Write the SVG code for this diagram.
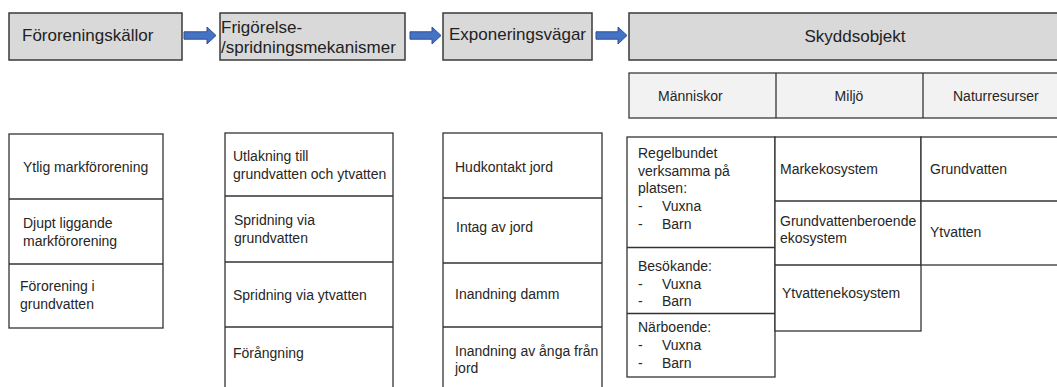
<svg xmlns="http://www.w3.org/2000/svg" width="1057" height="387" viewBox="0 0 1057 387">
<style>
.hdr{fill:#d9d9d9;stroke:#3a3a3a;stroke-width:1.5}
.sub{fill:#f2f2f2;stroke:#3a3a3a;stroke-width:1.3}
.cell{fill:#ffffff;stroke:#333;stroke-width:1.3}
.ln{stroke:#333;stroke-width:1.3;fill:none}
.ht{font-family:"Liberation Sans",Arial,sans-serif;font-size:17px;fill:#222}
.t{font-family:"Liberation Sans",Arial,sans-serif;font-size:14px;fill:#262626}
.arr{fill:#4472c4;stroke:#2f528f;stroke-width:1}
</style>
<rect width="1057" height="387" fill="#ffffff"/>

<g id="connectors">
<path class="arr" d="M184,31.8 H207 V27 L216,35.5 L207,44 V39.2 H184 Z"/>
<path class="arr" d="M410,31.8 H432 V27 L441,35.5 L432,44 V39.2 H410 Z"/>
<path class="arr" d="M596,31.8 H618 V27 L627,35.5 L618,44 V39.2 H596 Z"/>
</g>

<g id="n-fororeningskallor">
<rect class="hdr" x="9" y="13" width="173" height="47"/>
<text class="ht" x="22" y="41">Föroreningskällor</text>
</g>
<g id="n-frigorelse">
<rect class="hdr" x="220" y="13" width="185" height="47"/>
<text class="ht" x="221" y="33">Frigörelse-</text>
<text class="ht" x="221" y="53">/spridningsmekanismer</text>
</g>
<g id="n-exponeringsvagar">
<rect class="hdr" x="443" y="13" width="149" height="47"/>
<text class="ht" x="449" y="40">Exponeringsvägar</text>
</g>
<g id="n-skyddsobjekt">
<rect class="hdr" x="629" y="13" width="430" height="47"/>
<text class="ht" x="855" y="42" text-anchor="middle">Skyddsobjekt</text>
</g>

<g id="n-subheaders">
<rect class="sub" x="629" y="73" width="430" height="45"/>
<line class="ln" x1="776" y1="73" x2="776" y2="118"/>
<line class="ln" x1="923" y1="73" x2="923" y2="118"/>
<text class="t" x="658" y="101">Människor</text>
<text class="t" x="849" y="101" text-anchor="middle">Miljö</text>
<text class="t" x="953" y="101">Naturresurser</text>
</g>

<g id="n-kallor">
<rect class="cell" x="9" y="134" width="154" height="194"/>
<line class="ln" x1="9" y1="199" x2="163" y2="199"/>
<line class="ln" x1="9" y1="264" x2="163" y2="264"/>
<text class="t" x="23" y="172">Ytlig markförorening</text>
<text class="t" x="23" y="228">Djupt liggande</text>
<text class="t" x="23" y="246">markförorening</text>
<text class="t" x="20" y="291">Förorening i</text>
<text class="t" x="20" y="309">grundvatten</text>
</g>

<g id="n-mekanismer">
<rect class="cell" x="225" y="133" width="168" height="260"/>
<line class="ln" x1="225" y1="196" x2="393" y2="196"/>
<line class="ln" x1="225" y1="262" x2="393" y2="262"/>
<line class="ln" x1="225" y1="327" x2="393" y2="327"/>
<text class="t" x="233" y="161">Utlakning till</text>
<text class="t" x="233" y="179">grundvatten och ytvatten</text>
<text class="t" x="234" y="225">Spridning via</text>
<text class="t" x="234" y="243">grundvatten</text>
<text class="t" x="233" y="300">Spridning via ytvatten</text>
<text class="t" x="233" y="358">Förångning</text>
</g>

<g id="n-vagar">
<rect class="cell" x="443" y="133" width="159" height="260"/>
<line class="ln" x1="443" y1="198" x2="602" y2="198"/>
<line class="ln" x1="443" y1="263" x2="602" y2="263"/>
<line class="ln" x1="443" y1="327" x2="602" y2="327"/>
<text class="t" x="455" y="172">Hudkontakt jord</text>
<text class="t" x="456" y="232">Intag av jord</text>
<text class="t" x="455" y="299">Inandning damm</text>
<text class="t" x="455" y="356">Inandning av ånga från</text>
<text class="t" x="455" y="373">jord</text>
</g>

<g id="n-manniskor">
<rect class="cell" x="627" y="137" width="148" height="240"/>
<line class="ln" x1="627" y1="247.5" x2="775" y2="247.5"/>
<line class="ln" x1="627" y1="313.5" x2="775" y2="313.5"/>
<text class="t" x="638" y="158">Regelbundet</text>
<text class="t" x="638" y="176">verksamma på</text>
<text class="t" x="638" y="193">platsen:</text>
<text class="t" x="638" y="211">-</text><text class="t" x="662" y="211">Vuxna</text>
<text class="t" x="638" y="229">-</text><text class="t" x="662" y="229">Barn</text>
<text class="t" x="638" y="271">Besökande:</text>
<text class="t" x="638" y="289">-</text><text class="t" x="662" y="289">Vuxna</text>
<text class="t" x="638" y="306">-</text><text class="t" x="662" y="306">Barn</text>
<text class="t" x="638" y="332">Närboende:</text>
<text class="t" x="638" y="350">-</text><text class="t" x="662" y="350">Vuxna</text>
<text class="t" x="638" y="368">-</text><text class="t" x="662" y="368">Barn</text>
</g>

<g id="n-miljo">
<rect class="cell" x="775" y="137" width="146" height="194"/>
<line class="ln" x1="775" y1="201" x2="921" y2="201"/>
<line class="ln" x1="775" y1="265" x2="921" y2="265"/>
<text class="t" x="780" y="174">Markekosystem</text>
<text class="t" x="780" y="226">Grundvattenberoende</text>
<text class="t" x="780" y="243">ekosystem</text>
<text class="t" x="782" y="298">Ytvattenekosystem</text>
</g>

<g id="n-naturresurser">
<rect class="cell" x="921" y="137" width="140" height="128"/>
<line class="ln" x1="921" y1="201" x2="1061" y2="201"/>
<text class="t" x="930" y="174">Grundvatten</text>
<text class="t" x="930" y="237">Ytvatten</text>
</g>
</svg>
